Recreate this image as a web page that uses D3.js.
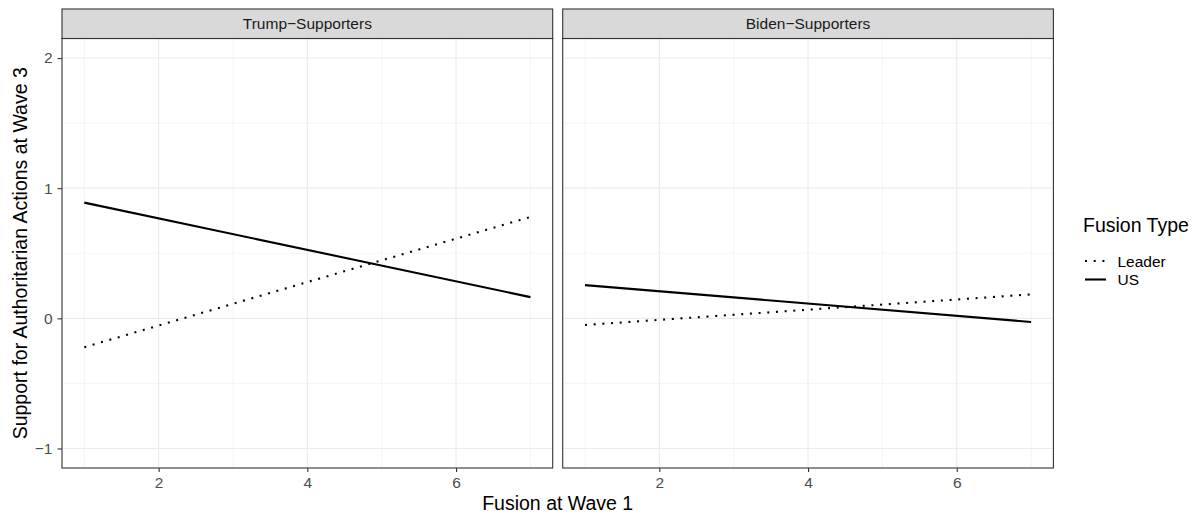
<!DOCTYPE html>
<html><head><meta charset="utf-8">
<script src="https://cdn.jsdelivr.net/npm/d3@7"></script>
<style>body{margin:0;background:#fff}svg{display:block;font-family:"Liberation Sans",Arial,sans-serif}</style>
</head><body><svg id="c" width="1203" height="514"></svg>
<script>
const panels = ["Trump\u2212Supporters", "Biden\u2212Supporters"];
const fusionTypes = ["Leader", "US"];
const xEnds = [1, 7];
// values at x=1 and x=7 for each panel / fusion type
const trumpLeader = [-0.222, 0.779];
const trumpUS = [0.889, 0.163];
const bidenLeader = [-0.051, 0.184];
const bidenUS = [0.255, -0.028];
const xTicks = [2, 4, 6];
const yTicks = [-1, 0, 1, 2];
const xMinor = [1, 3, 5, 7];
const yMinor = [-0.5, 0.5, 1.5];

const seriesByPanel = [
  {Leader: trumpLeader, US: trumpUS},
  {Leader: bidenLeader, US: bidenUS}
];

const svg = d3.select("#c");
const panelX = [62, 562.7];
const panelW = 490.7;
const stripTop = 9, stripH = 29.5;
const plotTop = stripTop + stripH, plotBottom = 468;
const smallFont = 15.5, bigFont = 19.5;

const y = d3.scaleLinear().domain([-1.15, 2.15]).range([plotBottom, plotTop]);
const dashFor = {Leader: "2 6.7", US: null};

panels.forEach((name, i) => {
  const x = d3.scaleLinear().domain([0.7, 7.3]).range([panelX[i], panelX[i] + panelW]);
  const g = svg.append("g");
  g.selectAll(".vmin").data(xMinor).join("line")
    .attr("x1", d => x(d)).attr("x2", d => x(d)).attr("y1", plotTop).attr("y2", plotBottom)
    .attr("stroke", "#ebebeb").attr("stroke-width", 0.55);
  g.selectAll(".hmin").data(yMinor).join("line")
    .attr("y1", d => y(d)).attr("y2", d => y(d)).attr("x1", x.range()[0]).attr("x2", x.range()[1])
    .attr("stroke", "#ebebeb").attr("stroke-width", 0.55);
  g.selectAll(".vmaj").data(xTicks).join("line")
    .attr("x1", d => x(d)).attr("x2", d => x(d)).attr("y1", plotTop).attr("y2", plotBottom)
    .attr("stroke", "#ebebeb").attr("stroke-width", 1.1);
  g.selectAll(".hmaj").data(yTicks).join("line")
    .attr("y1", d => y(d)).attr("y2", d => y(d)).attr("x1", x.range()[0]).attr("x2", x.range()[1])
    .attr("stroke", "#ebebeb").attr("stroke-width", 1.1);

  fusionTypes.forEach(ft => {
    const vals = seriesByPanel[i][ft];
    const pts = xEnds.map((xv, k) => [x(xv), y(vals[k])]);
    g.append("path").attr("d", d3.line()(pts))
      .attr("fill", "none").attr("stroke", "#000").attr("stroke-width", 2.1)
      .attr("stroke-dasharray", dashFor[ft]);
  });

  g.append("rect").attr("x", x.range()[0]).attr("y", plotTop).attr("width", panelW).attr("height", plotBottom - plotTop)
    .attr("fill", "none").attr("stroke", "#333").attr("stroke-width", 1.1);
  g.append("rect").attr("x", x.range()[0]).attr("y", stripTop).attr("width", panelW).attr("height", stripH)
    .attr("fill", "#d9d9d9").attr("stroke", "#333").attr("stroke-width", 1.1);
  g.append("text").attr("x", x.range()[0] + panelW / 2).attr("y", stripTop + stripH / 2 + 5.5)
    .attr("text-anchor", "middle").attr("font-size", smallFont).attr("fill", "#1a1a1a").text(name);

  const xa = svg.append("g").attr("transform", `translate(0,${plotBottom})`)
    .call(d3.axisBottom(x).tickValues(xTicks).tickFormat(d3.format("d")).tickSize(4).tickPadding(5));
  xa.select(".domain").remove();
  xa.selectAll("line").attr("stroke", "#333").attr("stroke-width", 1.1);
  xa.selectAll("text").attr("font-size", smallFont).attr("fill", "#4d4d4d").attr("font-family", "Liberation Sans, Arial, sans-serif");

  if (i === 0) {
    const ya = svg.append("g").attr("transform", `translate(${x.range()[0]},0)`)
      .call(d3.axisLeft(y).tickValues(yTicks).tickFormat(d => d < 0 ? "\u2212" + Math.abs(d) : d).tickSize(4.5).tickPadding(5));
    ya.select(".domain").remove();
    ya.selectAll("line").attr("stroke", "#333").attr("stroke-width", 1.1);
    ya.selectAll("text").attr("font-size", smallFont).attr("fill", "#4d4d4d").attr("font-family", "Liberation Sans, Arial, sans-serif");
  }
});

svg.append("text").attr("x", (panelX[0] + panelX[1] + panelW) / 2).attr("y", 510)
  .attr("text-anchor", "middle").attr("font-size", bigFont).attr("fill", "#000").text("Fusion at Wave 1");
svg.append("text").attr("transform", `translate(27,${(plotTop + plotBottom) / 2}) rotate(-90)`)
  .attr("text-anchor", "middle").attr("font-size", bigFont).attr("fill", "#000").text("Support for Authoritarian Actions at Wave 3");

const lg = svg.append("g");
lg.append("text").attr("x", 1083).attr("y", 231.5).attr("font-size", bigFont).attr("fill", "#000").text("Fusion Type");
fusionTypes.forEach((ft, k) => {
  const yy = 261 + k * 18.5;
  lg.append("line").attr("x1", 1085).attr("x2", 1106).attr("y1", yy).attr("y2", yy)
    .attr("stroke", "#000").attr("stroke-width", 2.1).attr("stroke-dasharray", dashFor[ft]);
  lg.append("text").attr("x", 1117.5).attr("y", yy + 5.5).attr("font-size", smallFont).attr("fill", "#000").text(ft);
});
</script></body></html>
